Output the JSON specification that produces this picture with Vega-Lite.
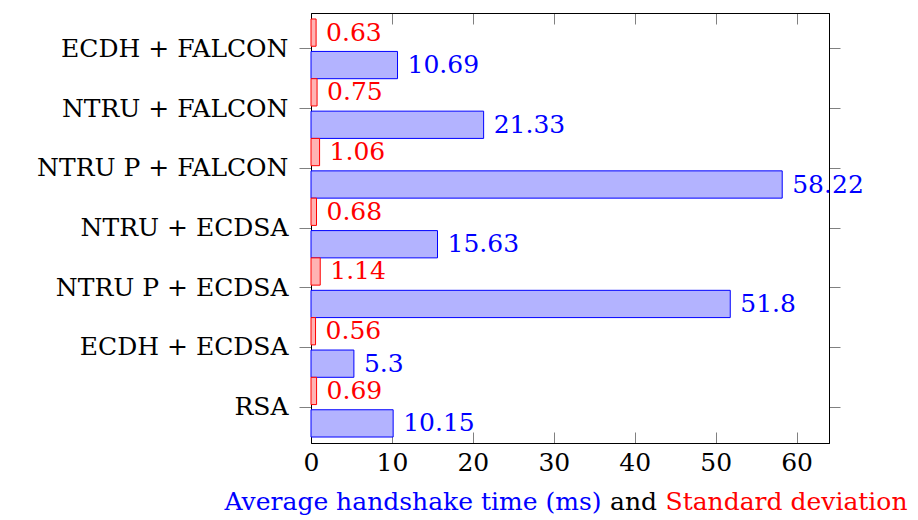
{
  "$schema": "https://vega.github.io/schema/vega-lite/v6.json",
  "width": 518,
  "height": 430,
  "autosize": {"type": "none"},
  "padding": {"left": 311, "top": 13, "right": 89, "bottom": 77},
  "background": "white",
  "config": {
    "view": {"stroke": "black", "strokeWidth": 1},
    "font": "DejaVu Serif",
    "axis": {
      "domainColor": "black",
      "domainWidth": 1,
      "tickColor": "#808080",
      "tickWidth": 1,
      "grid": false,
      "labelFont": "DejaVu Serif",
      "titleFont": "DejaVu Serif",
      "labelFontSize": 25,
      "titleFontSize": 25,
      "labelColor": "black",
      "labelLimit": 0,
      "titleFontWeight": "normal"
    }
  },
  "data": {
    "values": [
      {"config": "ECDH + FALCON", "series": "std", "value": 0.63},
      {"config": "ECDH + FALCON", "series": "avg", "value": 10.69},
      {"config": "NTRU + FALCON", "series": "std", "value": 0.75},
      {"config": "NTRU + FALCON", "series": "avg", "value": 21.33},
      {"config": "NTRU P + FALCON", "series": "std", "value": 1.06},
      {"config": "NTRU P + FALCON", "series": "avg", "value": 58.22},
      {"config": "NTRU + ECDSA", "series": "std", "value": 0.68},
      {"config": "NTRU + ECDSA", "series": "avg", "value": 15.63},
      {"config": "NTRU P + ECDSA", "series": "std", "value": 1.14},
      {"config": "NTRU P + ECDSA", "series": "avg", "value": 51.8},
      {"config": "ECDH + ECDSA", "series": "std", "value": 0.56},
      {"config": "ECDH + ECDSA", "series": "avg", "value": 5.3},
      {"config": "RSA", "series": "std", "value": 0.69},
      {"config": "RSA", "series": "avg", "value": 10.15}
    ]
  },
  "layer": [
    {
      "transform": [{"filter": "datum.series === 'avg'"}],
      "mark": {"type": "bar", "fill": "#b3b3ff", "stroke": "#0000ff", "strokeWidth": 1},
      "encoding": {
        "x": {"field": "value", "type": "quantitative", "scale": {"domain": [0, 64], "nice": false, "zero": true},
          "axis": {"orient": "bottom", "values": [0, 10, 20, 30, 40, 50, 60], "tickSize": -11, "labelPadding": 18, "labelBaseline": "top", "labelFlush": false,
            "title": "Average handshake time (ms)", "titleColor": "#0000ff", "titleAlign": "right", "titleAnchor": null, "titleX": 290, "titleY": 66, "titleBaseline": "alphabetic"}},
        "y": {"field": "config", "type": "nominal", "sort": ["ECDH + FALCON", "NTRU + FALCON", "NTRU P + FALCON", "NTRU + ECDSA", "NTRU P + ECDSA", "ECDH + ECDSA", "RSA"],
          "scale": {"paddingInner": 0, "paddingOuter": 0.1},
          "axis": {"orient": "left", "title": null, "tickSize": 12, "labelPadding": 11}},
        "yOffset": {"field": "series", "type": "nominal", "sort": ["std", "avg"], "scale": {"domain": ["std", "avg"], "paddingInner": 0.16, "paddingOuter": 0}}
      }
    },
    {
      "transform": [{"filter": "datum.series === 'std'"}],
      "mark": {"type": "bar", "fill": "#ffb3b3", "stroke": "#ff0000", "strokeWidth": 1},
      "encoding": {
        "x": {"field": "value", "type": "quantitative", "scale": {"domain": [0, 64], "nice": false, "zero": true},
          "axis": {"orient": "top", "values": [0, 10, 20, 30, 40, 50, 60], "tickSize": -11, "labels": false, "title": null}},
        "y": {"field": "config", "type": "nominal", "sort": ["ECDH + FALCON", "NTRU + FALCON", "NTRU P + FALCON", "NTRU + ECDSA", "NTRU P + ECDSA", "ECDH + ECDSA", "RSA"],
          "scale": {"paddingInner": 0, "paddingOuter": 0.1},
          "axis": {"orient": "right", "title": null, "tickSize": 11, "labels": false}},
        "yOffset": {"field": "series", "type": "nominal", "sort": ["std", "avg"], "scale": {"domain": ["std", "avg"], "paddingInner": 0.16, "paddingOuter": 0}}
      }
    },
    {
      "transform": [{"filter": "datum.series === 'avg'"}],
      "mark": {"type": "text", "align": "left", "baseline": "middle", "dx": 10, "fontSize": 25, "font": "DejaVu Serif", "color": "#0000ff"},
      "encoding": {
        "x": {"field": "value", "type": "quantitative", "scale": {"domain": [0, 64], "nice": false, "zero": true},
          "axis": {"orient": "bottom", "labels": false, "ticks": false, "domain": false, "title": "and", "titleColor": "black", "titleAlign": "center", "titleAnchor": null, "titleX": 322, "titleY": 66, "titleBaseline": "alphabetic"}},
        "y": {"field": "config", "type": "nominal", "sort": ["ECDH + FALCON", "NTRU + FALCON", "NTRU P + FALCON", "NTRU + ECDSA", "NTRU P + ECDSA", "ECDH + ECDSA", "RSA"],
          "scale": {"paddingInner": 0, "paddingOuter": 0.1}, "axis": null},
        "yOffset": {"field": "series", "type": "nominal", "sort": ["std", "avg"], "scale": {"domain": ["std", "avg"], "paddingInner": 0.16, "paddingOuter": 0}},
        "text": {"field": "value", "type": "nominal"}
      }
    },
    {
      "transform": [{"filter": "datum.series === 'std'"}],
      "mark": {"type": "text", "align": "left", "baseline": "middle", "dx": 10, "fontSize": 25, "font": "DejaVu Serif", "color": "#ff0000"},
      "encoding": {
        "x": {"field": "value", "type": "quantitative", "scale": {"domain": [0, 64], "nice": false, "zero": true},
          "axis": {"orient": "bottom", "labels": false, "ticks": false, "domain": false, "title": "Standard deviation", "titleColor": "#ff0000", "titleAlign": "left", "titleAnchor": null, "titleX": 354, "titleY": 66, "titleBaseline": "alphabetic"}},
        "y": {"field": "config", "type": "nominal", "sort": ["ECDH + FALCON", "NTRU + FALCON", "NTRU P + FALCON", "NTRU + ECDSA", "NTRU P + ECDSA", "ECDH + ECDSA", "RSA"],
          "scale": {"paddingInner": 0, "paddingOuter": 0.1}, "axis": null},
        "yOffset": {"field": "series", "type": "nominal", "sort": ["std", "avg"], "scale": {"domain": ["std", "avg"], "paddingInner": 0.16, "paddingOuter": 0}},
        "text": {"field": "value", "type": "nominal"}
      }
    }
  ],
  "resolve": {"axis": {"x": "independent", "y": "independent"}}
}
